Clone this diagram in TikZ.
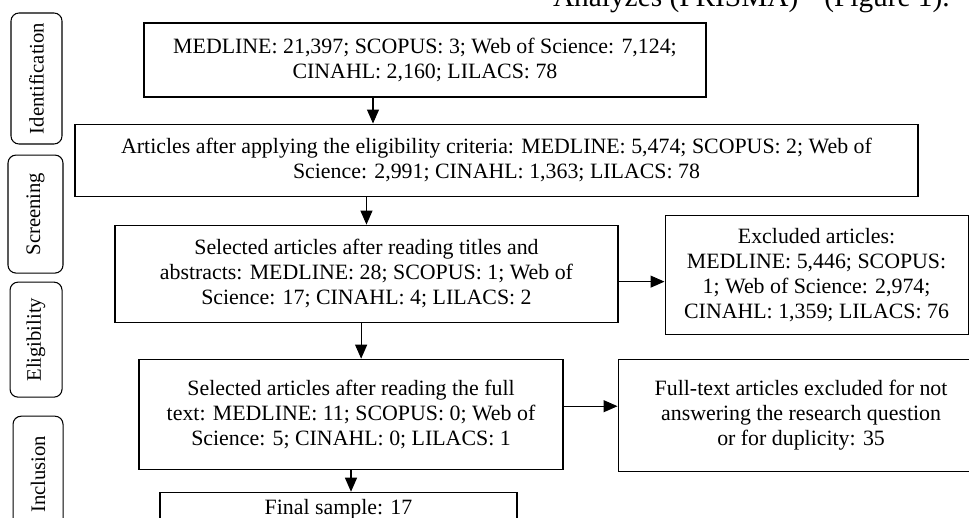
\documentclass[tikz,border=0pt]{standalone}
\usepackage{fontspec}
\setmainfont{Liberation Serif}
\usepackage{tikz}
\usetikzlibrary{positioning,arrows.meta}
\newcommand{\boxfont}{\fontsize{16.4}{18.75}\selectfont}
\newcommand{\stagefont}{\fontsize{15.5}{18}\selectfont}

\begin{document}
\begin{tikzpicture}[
    x=0.75pt, y=-0.75pt,
    box/.style={draw, line width=0.8pt, inner sep=0pt, align=center, font=\boxfont},
    stage/.style={draw, line width=0.8pt, rounded corners=6pt, inner sep=0pt, font=\stagefont},
    arr/.style={-{Triangle[length=10.5pt,width=9pt]}, line width=0.8pt}
]
\path[use as bounding box, clip] (0,0) rectangle (969,517);

% Running text of the page, cut at the top
\node[anchor=base east, inner sep=0pt, font=\fontsize{22}{26}\selectfont] (page) at (950,7) {Analyzes (PRISMA)\hspace{14pt} (Figure 1).};

% Stage labels
\node[stage, minimum width=38.25pt, minimum height=98.25pt] (ident) at (36.5,78.5) {\rotatebox{90}{Identification}};
\node[stage, minimum width=41.25pt, minimum height=88.5pt, below=7.5pt of ident, xshift=-0.75pt] (screen) {\rotatebox{90}{Screening}};
\node[stage, minimum width=39pt, minimum height=86.25pt, below=6pt of screen, xshift=0.4pt] (elig) {\rotatebox{90}{Eligibility}};
\node[stage, minimum width=37.5pt, minimum height=87pt, below=13.5pt of elig, xshift=1.5pt] (incl) {\rotatebox{90}{Inclusion}};

% Main flow
\node[box, minimum width=421.5pt, minimum height=55.5pt] (search) at (425,60) {MEDLINE: 21,397; SCOPUS: 3; Web of Science: 7,124;\\CINAHL: 2,160; LILACS: 78};
\node[box, minimum width=632.25pt, minimum height=54pt, below=19.5pt of search, xshift=53.6pt] (eligible) {Articles after applying the eligibility criteria: MEDLINE: 5,474; SCOPUS: 2; Web of\\Science: 2,991; CINAHL: 1,363; LILACS: 78};
\node[box, minimum width=377.25pt, minimum height=72.75pt, below=21pt of eligible, xshift=-97.5pt] (titles) {Selected articles after reading titles and\\abstracts: MEDLINE: 28; SCOPUS: 1; Web of\\Science: 17; CINAHL: 4; LILACS: 2};
\node[box, minimum width=318pt, minimum height=82.5pt, below=27pt of titles, xshift=-11.6pt] (fulltext) {Selected articles after reading the full\\text: MEDLINE: 11; SCOPUS: 0; Web of\\Science: 5; CINAHL: 0; LILACS: 1};
\node[box, minimum width=267.75pt, minimum height=25pt, below=16.5pt of fulltext, xshift=-9.4pt] (final) {Final sample: 17};

% Exclusions
\node[box, minimum width=227.25pt, minimum height=89.25pt, right=34.5pt of titles, yshift=-0.75pt] (excl1) {Excluded articles:\\MEDLINE: 5,446; SCOPUS:\\1; Web of Science: 2,974;\\CINAHL: 1,359; LILACS: 76};
\node[box, minimum width=274.5pt, minimum height=84pt, right=40.5pt of fulltext, yshift=-0.75pt] (excl2) {Full-text articles excluded for not\\answering the research question\\or for duplicity: 35};

% Arrows
\draw[arr] ([xshift=-39pt]search.south) -- ([xshift=-39pt]search.south |- eligible.north);
\draw[arr] (eligible.south -| titles.north) -- (titles.north);
\draw[arr] ([xshift=-4pt]titles.south) -- ([xshift=-4pt]titles.south |- fulltext.north);
\draw[arr] (fulltext.south) -- (fulltext.south |- final.north);
\draw[arr] ([yshift=-6pt]titles.east) -- ([yshift=-6pt]titles.east -| excl1.west);
\draw[arr] ([yshift=6pt]fulltext.east) -- ([yshift=6pt]fulltext.east -| excl2.west);
\end{tikzpicture}
\end{document}
